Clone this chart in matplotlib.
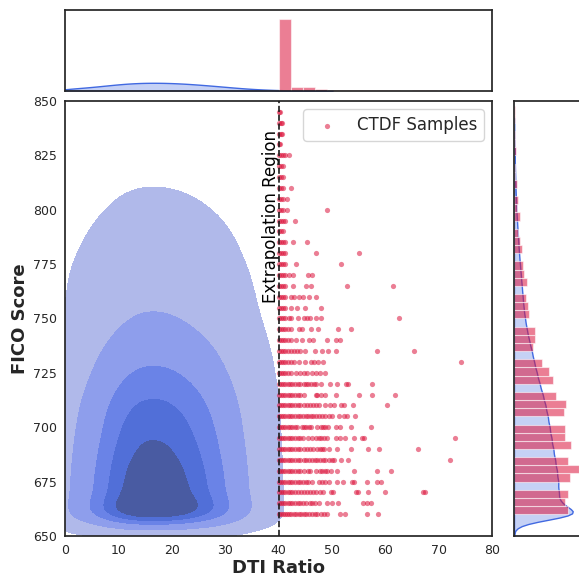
import numpy as np
import matplotlib
matplotlib.use('Agg')
import matplotlib.pyplot as plt
import seaborn as sns

# CTDF samples: one row of points per FICO level (DTI >= 40)
fico_levels = [660, 665, 670, 675, 680, 685, 690, 695, 700, 705, 710, 715, 720,
               725, 730, 735, 740, 745, 750, 755, 760, 765, 770, 775, 780, 785,
               790, 795, 800, 805, 810, 815, 820, 825, 830, 835, 840, 845]

# total number of samples in each row (most of them sit right on DTI = 40)
row_counts = [216, 203, 216, 223, 260, 216, 228, 204, 204, 200, 207, 167, 156,
              140, 112, 77, 83, 83, 60, 56, 48, 52, 39, 36, 32, 26,
              18, 24, 12, 16, 12, 4, 4, 10, 2, 2, 2, 1]

# visible DTI values per row, first value = the pile at the boundary
row_dti = [
    [40.0, 40.4, 40.8, 41.2, 41.6, 42.0, 42.4, 42.9, 43.3, 43.8, 44.2, 44.7, 45.2, 45.7, 46.2, 46.8, 47.3, 47.9, 48.5, 49.1, 51.6, 52.4, 56.5, 58.6],
    [40.0, 40.4, 40.8, 41.2, 41.7, 42.1, 42.6, 43.1, 43.6, 44.1, 44.6, 45.1, 45.9, 46.3, 46.9, 47.6, 49.0, 50.1, 51.2, 55.8, 56.5, 57.4],
    [40.0, 40.4, 40.8, 41.2, 41.7, 42.1, 42.6, 43.1, 43.6, 44.2, 44.8, 45.3, 45.9, 46.5, 47.0, 47.8, 48.3, 49.8, 50.2, 54.6, 54.9, 56.8, 59.9, 67.1, 67.4],
    [40.0, 40.4, 40.8, 41.2, 41.7, 42.1, 42.6, 43.1, 43.6, 44.1, 44.6, 45.1, 45.6, 46.3, 47.6, 48.1, 48.8, 49.5, 51.0, 52.0, 53.8, 54.1, 56.5, 58.5, 59.2],
    [40.0, 40.4, 40.8, 41.2, 41.7, 42.1, 42.6, 43.1, 43.6, 44.1, 44.7, 45.5, 45.9, 47.0, 47.8, 48.2, 48.8, 49.1, 49.8, 51.0, 54.1, 58.5, 61.0],
    [40.0, 40.4, 40.8, 41.2, 41.7, 42.1, 42.6, 43.1, 43.6, 44.1, 44.7, 45.1, 45.7, 46.3, 46.8, 47.3, 47.8, 48.3, 48.8, 49.4, 50.0, 50.4, 51.8, 53.1, 72.2],
    [40.0, 40.4, 40.8, 41.2, 41.7, 42.1, 42.6, 43.1, 43.6, 44.1, 44.7, 45.3, 45.9, 46.5, 47.3, 47.8, 48.2, 48.5, 49.5, 51.0, 53.5, 56.7, 58.9, 66.2],
    [40.0, 40.4, 40.8, 41.2, 41.7, 42.1, 42.6, 43.1, 43.6, 44.1, 44.6, 45.5, 46.3, 47.0, 47.5, 47.9, 48.5, 49.1, 50.7, 51.6, 52.4, 54.1, 55.6, 56.0, 73.1],
    [40.0, 40.4, 40.8, 41.2, 41.7, 42.1, 42.6, 43.1, 43.5, 44.4, 44.8, 45.1, 45.7, 46.0, 47.3, 47.9, 48.3, 48.8, 49.3, 50.7, 51.6, 53.5, 57.3],
    [40.0, 40.4, 40.8, 41.2, 41.7, 42.1, 42.6, 43.1, 43.6, 44.1, 44.6, 45.1, 45.5, 46.0, 46.5, 47.0, 47.6, 48.2, 48.8, 49.5, 50.1, 51.4, 52.3, 52.9, 54.3],
    [40.0, 40.4, 40.8, 41.2, 41.7, 42.1, 42.6, 43.1, 43.6, 44.1, 44.7, 45.3, 45.9, 46.5, 47.0, 47.6, 48.8, 49.6, 50.4, 51.8, 52.3, 54.0, 60.3],
    [40.0, 40.4, 40.8, 41.2, 41.7, 42.1, 42.6, 43.1, 43.6, 44.1, 44.8, 47.0, 47.3, 47.9, 48.8, 50.7, 55.1, 57.6, 61.8],
    [40.0, 40.4, 40.8, 41.2, 41.7, 42.1, 42.6, 43.1, 43.6, 44.1, 44.7, 45.1, 45.6, 46.1, 46.6, 47.1, 47.9, 49.7, 51.0, 52.6, 53.0, 57.5],
    [40.0, 40.4, 40.8, 41.3, 41.8, 42.3, 43.2, 44.1, 44.8, 45.4, 46.3, 47.0, 47.8, 48.8],
    [40.0, 40.4, 40.8, 41.3, 41.8, 42.3, 42.9, 43.8, 44.9, 46.0, 46.6, 47.4, 48.4, 74.2],
    [40.0, 40.4, 40.8, 41.3, 41.8, 42.3, 42.9, 43.5, 44.1, 44.9, 46.8, 48.2, 49.3, 50.7, 58.4, 65.4],
    [40.0, 40.4, 40.8, 41.3, 41.8, 42.3, 43.2, 44.4, 45.7, 46.5, 49.0, 50.7, 51.6],
    [40.0, 40.4, 40.8, 41.3, 41.8, 42.3, 43.8, 44.4, 46.0, 47.4, 51.2, 53.5],
    [40.0, 40.4, 40.8, 41.3, 41.9, 42.4, 43.7, 44.8, 45.4, 45.9, 47.1, 48.0, 62.5],
    [40.0, 40.4, 40.8, 41.3, 42.4, 43.4, 44.9, 47.9],
    [40.0, 40.4, 40.8, 41.3, 42.4, 42.9, 43.8, 44.6, 45.8, 47.0],
    [40.0, 40.4, 40.8, 41.3, 42.8, 45.1, 46.0, 52.8, 61.5],
    [40.0, 40.4, 40.8, 41.3, 41.9, 42.8, 45.5, 46.3],
    [40.0, 40.4, 40.8, 41.3, 43.2, 51.8],
    [40.0, 40.4, 40.8, 41.3, 47.1, 55.0],
    [40.0, 40.4, 40.8, 41.3, 42.8, 45.4],
    [40.0, 40.4, 40.8],
    [40.0, 40.4, 40.8, 41.3, 43.0],
    [40.0, 40.4, 40.8, 41.6, 49.0],
    [40.0, 40.4, 40.8, 41.6],
    [40.0, 40.4, 40.8, 42.3],
    [40.0, 40.4, 40.9],
    [40.0, 40.4, 40.8],
    [40.0, 40.4, 40.8, 41.3, 41.9],
    [40.0, 40.3],
    [40.0, 40.4, 40.6],
    [40.0, 40.4, 40.6],
    [40.0, 40.3],
]
# each dot in the dense part near the boundary stands for two samples
dense_weight = 2
dense_limit = 47.0

# training data (DTI up to 40), binned marginals
train_dti = [0, 1.25, 2.5, 3.75, 5, 6.25, 7.5, 8.75, 10, 11.25, 12.5, 13.75, 15, 16.25,
             17.5, 18.75, 20, 21.25, 22.5, 23.75, 25, 26.25, 27.5, 28.75, 30, 31.25,
             32.5, 33.75, 35, 36.25, 37.5, 38.75, 40, 41.25, 42.5]
train_dti_weight = [0.2, 0.25, 0.3, 0.37, 0.45, 0.53, 0.62, 0.71, 0.8, 0.87, 0.93, 0.97,
                    1.0, 1.0, 1.0, 0.99, 0.96, 0.92, 0.88, 0.82, 0.76, 0.69, 0.62, 0.55,
                    0.47, 0.4, 0.32, 0.26, 0.2, 0.15, 0.11, 0.08, 0.05, 0.02, 0.01]
train_fico = [660, 665, 670, 675, 680, 685, 690, 695, 700, 705, 710, 715, 720, 725,
              730, 735, 740, 745, 750, 755, 760, 765, 770, 775, 780, 785, 790, 795,
              800, 805, 810, 815, 820, 825, 830]
train_fico_weight = [1.55, 1.0, 0.98, 0.97, 0.94, 0.9, 0.86, 0.82, 0.78, 0.74, 0.69, 0.63,
                     0.56, 0.5, 0.44, 0.39, 0.33, 0.28, 0.24, 0.21, 0.19, 0.17, 0.15,
                     0.13, 0.11, 0.095, 0.08, 0.065, 0.052, 0.042, 0.033, 0.026, 0.02,
                     0.014, 0.01]

red = 'crimson'
blue = 'royalblue'

# flatten the samples; the boundary point carries the rest of the row
xs, ys, ws = [], [], []
for f, n, vals in zip(fico_levels, row_counts, row_dti):
    w_row = [dense_weight if v < dense_limit else 1 for v in vals]
    for i, v in enumerate(vals):
        xs.append(v)
        ys.append(f)
        ws.append(max(n - sum(w_row[1:]), 1) if i == 0 else w_row[i])
xs = np.array(xs)
ys = np.array(ys)
ws = np.array(ws)

dd, ff = np.meshgrid(train_dti, train_fico)
ww = np.outer(train_fico_weight, train_dti_weight)

sns.set_theme(style='white')
fig = plt.figure(figsize=(5.79, 5.78), dpi=100)
ax = fig.add_axes([65 / 579, 42 / 578, 427 / 579, 435 / 578])
ax_top = fig.add_axes([65 / 579, 487.5 / 578, 427 / 579, 80.5 / 578])
ax_right = fig.add_axes([514 / 579, 42 / 578, 80 / 579, 435 / 578])

# main panel
sns.kdeplot(x=dd.ravel(), y=ff.ravel(), weights=ww.ravel(), fill=True,
            levels=[0.02, 0.2, 0.43, 0.62, 0.81, 1.0], color=blue, bw_method=0.14, ax=ax)
ax.scatter(xs, ys, s=14, color=red, alpha=0.55, linewidths=0, label='CTDF Samples', zorder=3)
ax.axvline(40, color='k', linestyle='--', linewidth=1.2, zorder=4)
ax.text(40.3, 797, 'Extrapolation Region', rotation=90, ha='right', va='center',
        fontsize=12, color='black')
ax.set_xlim(0, 80)
ax.set_ylim(650, 850)
ax.set_xticks(np.arange(0, 81, 10))
ax.set_yticks(np.arange(650, 851, 25))
ax.tick_params(labelsize=9, length=0)
ax.tick_params(axis='x', pad=6)
ax.tick_params(axis='y', pad=6)
ax.set_xlabel('DTI Ratio', fontsize=13, fontweight='bold', labelpad=1)
ax.set_ylabel('FICO Score', fontsize=13, fontweight='bold', labelpad=2.5)
ax.legend(loc='upper right', fontsize=12)

# top marginal
sns.kdeplot(x=train_dti, weights=train_dti_weight, fill=True, color=blue,
            bw_method=0.2, alpha=0.3, ax=ax_top)
ax_top.hist(xs, weights=ws, bins=15, density=True, color=red, alpha=0.55,
            edgecolor='white', linewidth=0.8)
ax_top.set_xlim(0, 80)
ax_top.set_ylim(0, 0.43)

# right marginal
sns.kdeplot(y=train_fico, weights=train_fico_weight, fill=True, color=blue,
            bw_method=0.08, alpha=0.3, ax=ax_right)
ax_right.hist(ys, weights=ws, bins=np.arange(660, 850, 3.75), density=True,
              orientation='horizontal', color=red, alpha=0.55, edgecolor='white', linewidth=0.8)
ax_right.set_ylim(650, 850)
ax_right.set_xlim(0, 0.0234)

for a in (ax_top, ax_right):
    a.set_xlabel('')
    a.set_ylabel('')
    a.tick_params(labelbottom=False, labelleft=False)

fig.savefig('out.png', dpi=100)
